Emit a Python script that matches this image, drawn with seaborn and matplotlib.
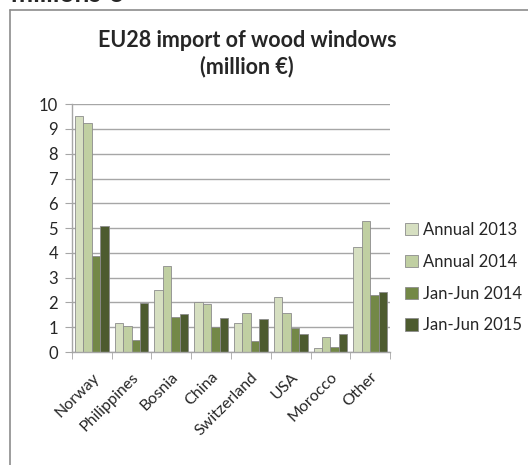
import pandas as pd
import matplotlib.pyplot as plt
import seaborn as sns
from matplotlib.lines import Line2D

countries = ['Norway', 'Philippines', 'Bosnia', 'China', 'Switzerland', 'USA', 'Morocco', 'Other']
series_names = ['Annual 2013', 'Annual 2014', 'Jan-Jun 2014', 'Jan-Jun 2015']
annual_2013 = [9.52, 1.16, 2.50, 2.03, 1.16, 2.20, 0.17, 4.25]
annual_2014 = [9.22, 1.05, 3.47, 1.94, 1.56, 1.59, 0.62, 5.28]
jan_jun_2014 = [3.88, 0.48, 1.43, 1.00, 0.46, 0.98, 0.19, 2.30]
jan_jun_2015 = [5.08, 1.99, 1.53, 1.36, 1.32, 0.71, 0.71, 2.43]
colors = ['#d8e4bc', '#c3d69b', '#77933c', '#4f6228']

rows = []
for name, vals in zip(series_names, [annual_2013, annual_2014, jan_jun_2014, jan_jun_2015]):
    for c, v in zip(countries, vals):
        rows.append({'country': c, 'series': name, 'value': v})
df = pd.DataFrame(rows)

sns.set_style('white')
plt.rcParams['font.family'] = ['Lato', 'DejaVu Sans']

fig = plt.figure(figsize=(5.28, 4.65), dpi=100)
ax = fig.add_axes([0.136, 0.243, 0.603, 0.533])

sns.barplot(data=df, x='country', y='value', hue='series', order=countries,
            hue_order=series_names, palette=colors, width=0.85, gap=0.0,
            edgecolor='#8c8c8c', linewidth=0.6, ax=ax)

ax.set_ylim(0, 10)
ax.set_xlim(-0.5, 7.5)
ax.set_yticks(range(0, 11))
ax.yaxis.grid(True, color='#a6a6a6', linewidth=1.0)
ax.set_axisbelow(True)
ax.set_xlabel('')
ax.set_ylabel('')
for s in ['top', 'right']:
    ax.spines[s].set_visible(False)
for s in ['left', 'bottom']:
    ax.spines[s].set_color('#a6a6a6')
    ax.spines[s].set_linewidth(1.0)

ax.tick_params(axis='y', left=True, length=5, color='#a6a6a6', labelsize=12, pad=5)
ax.set_xticks([i - 0.5 for i in range(9)], minor=True)
ax.tick_params(axis='x', which='minor', bottom=True, length=5, color='#a6a6a6')
ax.tick_params(axis='x', which='major', bottom=False, length=0, labelsize=11.5, pad=13)
plt.setp(ax.get_xticklabels(), rotation=45, ha='right', rotation_mode='anchor')

ax.legend(loc='center left', bbox_to_anchor=(1.0, 0.30), frameon=False,
          fontsize=12, labelspacing=0.95, handlelength=0.75, handleheight=0.75,
          handletextpad=0.3, borderaxespad=0.5)

ax.set_title('EU28 import of wood windows\n(million €)', fontsize=15.5,
             fontweight='bold', pad=22, x=0.55, linespacing=1.25)

fig.text(0.02, 1.012, 'millions €', fontsize=19, fontweight='bold', va='center')
fig.add_artist(Line2D([0.019, 0.019], [0, 0.978], transform=fig.transFigure,
                      color='#8c8c8c', linewidth=1.2))
fig.add_artist(Line2D([0.019, 1.0], [0.978, 0.978], transform=fig.transFigure,
                      color='#8c8c8c', linewidth=1.2))

fig.savefig('out.png', dpi=100)
